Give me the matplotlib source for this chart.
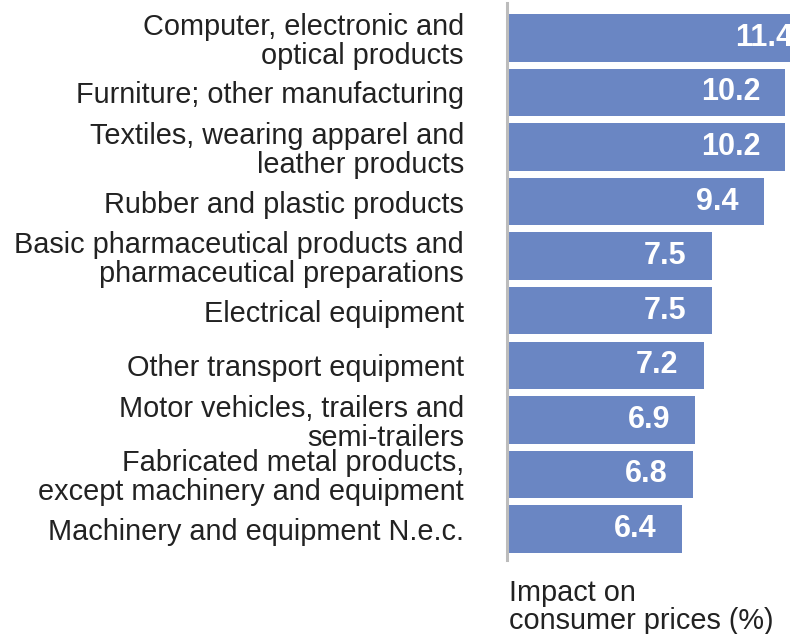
import numpy as np
import matplotlib.pyplot as plt

plt.rcParams['font.family'] = ['Liberation Sans', 'DejaVu Sans']

# sectors, top to bottom, and their impact on consumer prices (%)
sectors = [
    "Computer, electronic and\noptical products",
    "Furniture; other manufacturing",
    "Textiles, wearing apparel and\nleather products",
    "Rubber and plastic products",
    "Basic pharmaceutical products and\npharmaceutical preparations",
    "Electrical equipment",
    "Other transport equipment",
    "Motor vehicles, trailers and\nsemi-trailers",
    "Fabricated metal products,\nexcept machinery and equipment",
    "Machinery and equipment N.e.c.",
]
impact = [11.4, 10.2, 10.2, 9.4, 7.5, 7.5, 7.2, 6.9, 6.8, 6.4]

bar_color = "#6a86c3"
text_color = "#222222"

fig = plt.figure(figsize=(7.9, 6.34), dpi=100)
W, H = 790, 634
ax = fig.add_axes([507 / W, (H - 560) / H, (W - 507) / W, 557 / H])

y = np.arange(len(sectors))
ax.barh(y, impact, height=0.87, color=bar_color, zorder=2)

ax.set_xlim(0, 283 / 27.3)
ax.set_ylim(9.57, -0.64)

# value labels sit inside the right end of each bar
for yi, v in zip(y, impact):
    ax.annotate(f"{v:.1f}", xy=(v, yi), xytext=(-18, 0), textcoords="offset points",
                ha="right", va="center", color="white", fontsize=22,
                fontweight="bold", annotation_clip=False)

ax.set_yticks(y)
ax.set_yticklabels(sectors, fontsize=20.8, color=text_color, linespacing=1.05)
ax.tick_params(axis="y", length=0, pad=31)
ax.set_xticks([])

for side in ["top", "right", "bottom"]:
    ax.spines[side].set_visible(False)
ax.spines["left"].set_color("#bcbcbc")
ax.spines["left"].set_linewidth(2.2)

fig.text(509 / W, 1 - 579 / H, "Impact on\nconsumer prices (%)", ha="left", va="top",
         fontsize=20.8, color=text_color, linespacing=1.0)

fig.savefig("out.png", dpi=100)
